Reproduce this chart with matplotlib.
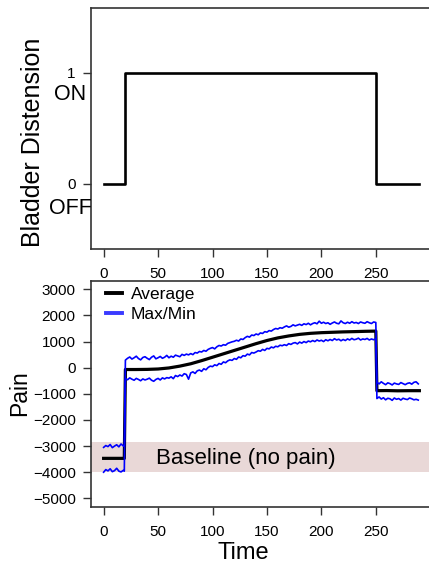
from __future__ import annotations

import matplotlib

matplotlib.use("Agg")
import matplotlib.pyplot as plt
import numpy as np
from matplotlib.lines import Line2D


# top panel: bladder distension on/off
STIM_TIME = [0, 20, 20, 250, 250, 290]
STIM_STATE = [0, 0, 1, 1, 0, 0]

# bottom panel: average pain (smooth)
AVG_TIME = [0, 19, 20, 30, 40, 50, 60, 70, 80, 90, 100, 110, 120, 130, 140, 150,
            160, 170, 180, 190, 200, 210, 220, 230, 240, 250, 251, 260, 270, 280, 290]
AVG_PAIN = [-3470, -3470, -70, -70, -65, -50, -10, 60, 150, 270, 400, 530, 660, 790,
            920, 1040, 1140, 1215, 1275, 1315, 1340, 1355, 1370, 1380, 1392, 1400,
            -880, -875, -885, -880, -880]

# sampling grid for the noisy max/min envelopes
ENV_TIME = np.r_[np.arange(0, 20, 2), 19, np.arange(20, 251, 2), np.arange(251, 290, 2)]

MAX_PAIN = [
    -3050, -2980, -3020, -2940, -3060, -3000, -2950, -3030, -2920, -2990, -3010,
    290, 360, 410, 330, 380, 440, 350, 300, 390, 420,
    360, 310, 400, 450, 340, 380, 430, 360, 400, 470,
    380, 440, 400, 480, 450, 420, 510, 470, 520, 490,
    540, 500, 580, 560, 620, 600, 660, 630, 700, 740,
    770, 720, 800, 850, 830, 880, 860, 930, 960, 990,
    1010, 1050, 1020, 1100, 1080, 1150, 1200, 1170, 1250, 1230,
    1290, 1260, 1330, 1310, 1380, 1360, 1420, 1400, 1460, 1500,
    1480, 1530, 1510, 1560, 1600, 1550, 1580, 1640, 1600, 1630,
    1660, 1620, 1680, 1650, 1700, 1640, 1690, 1720, 1680, 1780,
    1700, 1740, 1690, 1720, 1660, 1710, 1750, 1700, 1680, 1790,
    1720, 1690, 1740, 1700, 1760, 1710, 1730, 1690, 1750, 1720,
    1700, 1760, 1720, 1690, 1750, 1730,
    -560, -620, -540, -600, -650, -580, -610, -660, -590, -620,
    -640, -570, -610, -650, -600, -580, -630, -560, -540, -620,
]

MIN_PAIN = [
    -4000, -3900, -3950, -3870, -3980, -3940, -3850, -3960, -3990, -3930, -3960,
    -420, -460, -390, -440, -480, -410, -450, -500, -430, -470,
    -440, -400, -480, -520, -450, -410, -470, -390, -430, -380,
    -400, -350, -420, -300, -340, -280, -320, -230, -260, -440,
    -200, -160, -220, -120, -90, -140, -40, -80, 10, 60,
    40, 110, 80, 160, 130, 220, 190, 260, 300, 280,
    350, 320, 410, 380, 460, 440, 520, 490, 580, 560,
    600, 650, 630, 700, 660, 740, 720, 790, 760, 820,
    800, 860, 840, 880, 850, 920, 890, 940, 960, 910,
    980, 940, 1000, 960, 1020, 990, 1040, 1000, 1060, 1020,
    1050, 1000, 1070, 1030, 1080, 1040, 1110, 1060, 1090, 1030,
    1080, 1040, 1100, 1060, 1120, 1070, 1090, 1130, 1060, 1100,
    1080, 1120, 1060, 1100, 1070, 1110,
    -1180, -1120, -1200, -1150, -1230, -1170, -1190, -1250, -1160, -1210,
    -1180, -1240, -1170, -1200, -1220, -1160, -1190, -1230, -1210, -1240,
]

X_TICKS = [0, 50, 100, 150, 200, 250]
PAIN_TICKS = [-5000, -4000, -3000, -2000, -1000, 0, 1000, 2000, 3000]
BASELINE_BAND = (-4000, -2850)

SPINE = "#333333"
BLUE = "#0000ff"
BAND = "#e9d8d7"


def _style_axes(ax: plt.Axes) -> None:
    for side in ax.spines.values():
        side.set_color(SPINE)
        side.set_linewidth(1.2)
    ax.tick_params(axis="both", direction="out", length=6, width=1, color=SPINE,
                   labelsize=11)
    ax.tick_params(axis="x", pad=7)
    ax.tick_params(axis="y", pad=5)
    ax.set_xlim(-11.6, 301.6)
    ax.set_xticks(X_TICKS)


def plot_stimulus(fig: plt.Figure) -> None:
    ax = fig.add_axes([0.2121, 0.5577, 0.7949, 0.4281])
    ax.plot(STIM_TIME, STIM_STATE, color="black", linewidth=1.9)
    _style_axes(ax)
    ax.set_ylim(-0.586, 1.585)
    ax.set_yticks([0, 1])
    ax.set_yticklabels(["0", "1"])
    fig.text(0.1632, 0.8315, "ON", fontsize=15.5, ha="center", va="center")
    fig.text(0.1632, 0.6300, "OFF", fontsize=15.5, ha="center", va="center")
    fig.text(0.0762, 0.748, "Bladder Distension", fontsize=18, rotation=90,
             ha="center", va="center")


def plot_pain(fig: plt.Figure) -> None:
    ax = fig.add_axes([0.2121, 0.0995, 0.7949, 0.4014])
    ax.axhspan(*BASELINE_BAND, color=BAND, zorder=0, linewidth=0)
    ax.plot(AVG_TIME, AVG_PAIN, color="black", linewidth=2.3, zorder=2)
    ax.plot(ENV_TIME, MAX_PAIN, color=BLUE, linewidth=1.2, zorder=3)
    ax.plot(ENV_TIME, MIN_PAIN, color=BLUE, linewidth=1.2, zorder=3)
    ax.text(131, -3460, "Baseline (no pain)", fontsize=16, ha="center", va="center")
    _style_axes(ax)
    ax.set_ylim(-5331, 3318)
    ax.set_yticks(PAIN_TICKS)

    handles = [
        Line2D([], [], color="black", linewidth=2.8),
        Line2D([], [], color="#3a3aff", linewidth=2.8),
    ]
    ax.legend(handles, ["Average", "Max/Min"], loc="upper left",
              bbox_to_anchor=(0.04, 0.982), frameon=False, fontsize=12.5,
              handlelength=0.9, handletextpad=0.5, labelspacing=0.3,
              borderpad=0.1, borderaxespad=0)

    fig.text(0.046, 0.302, "Pain", fontsize=16.5, rotation=90, ha="center", va="center")
    fig.text(0.5664, 0.018, "Time", fontsize=17, ha="center", va="center")


def main() -> None:
    plt.rcParams["font.family"] = ["Liberation Sans", "DejaVu Sans"]
    fig = plt.figure(figsize=(4.29, 5.63), dpi=100)
    plot_stimulus(fig)
    plot_pain(fig)
    fig.savefig("out.png", dpi=100)
    plt.close(fig)


if __name__ == "__main__":
    main()
